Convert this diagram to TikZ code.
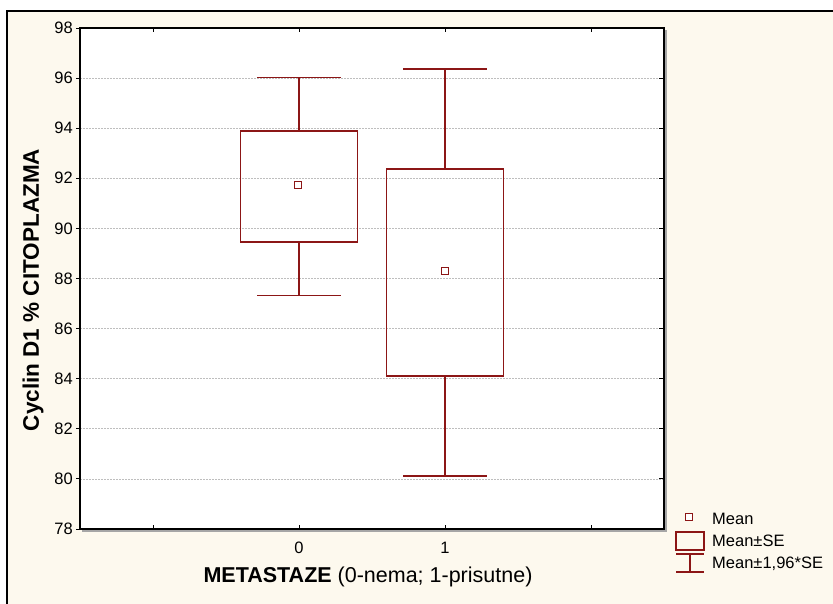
\documentclass[tikz,border=0pt]{standalone}
\usepackage{fontspec}
\setmainfont{Liberation Sans}
\definecolor{cream}{RGB}{253,249,238}
\definecolor{dred}{RGB}{140,22,22}
\definecolor{gridgray}{RGB}{190,190,190}
\tikzset{
  datline/.style={draw=dred, line width=1.7pt},
  meanmark/.style={draw=dred, line width=0.9pt, fill=white, minimum size=7pt, inner sep=0pt, rectangle},
  ticklab/.style={font=\fontsize{16.5}{18}\selectfont, inner sep=0pt},
  legtext/.style={font=\fontsize{16.5}{18}\selectfont, inner sep=0pt, anchor=west},
  axtitle/.style={font=\fontsize{21.5}{24}\selectfont, inner sep=0pt},
  gridline/.style={draw=gridgray, line width=0.7pt, dash pattern=on 2pt off 1pt},
}
\begin{document}
\begin{tikzpicture}[x=1pt,y=-1pt]
\useasboundingbox (0,0) rectangle (833,603);
\fill[white] (0,0) rectangle (833,603);
% outer frame
\fill[cream] (7,11) rectangle (840,610);
\draw[black, line width=2pt] (7,610) -- (7,11) -- (840,11);
% plot area
\fill[white] (80,28) rectangle (664,529);
\foreach \v in {80,82,...,96}{
  \pgfmathsetmacro{\yy}{529-(\v-78)*25.05}
  \draw[gridline] (80,\yy) -- (664,\yy);
}
\foreach \v in {78,80,...,98}{
  \pgfmathsetmacro{\yy}{529-(\v-78)*25.05}
  \draw[black, line width=1pt] (76,\yy) -- (80,\yy);
  \draw[black, line width=1pt] (664,\yy) -- (659,\yy);
  \node[ticklab, anchor=east] (yl\v) at (73,\yy) {\v};
}
\foreach \xx in {153,299,445,591}{
  \draw[black, line width=1pt] (\xx,529) -- (\xx,525);
  \draw[black, line width=1pt] (\xx,28) -- (\xx,32);
}
\draw[gray!70, line width=1.2pt] (666,30) -- (666,531) -- (82,531);
\draw[black, line width=1.3pt] (80,28) rectangle (664,529);
\node[ticklab] (x0) at (299,548) {0};
\node[ticklab] (x1) at (445,548) {1};
% group 0
\draw[datline] (299,77.6) -- (299,131);
\draw[datline] (299,242) -- (299,295.5);
\draw[datline] (257,77.6) -- (341,77.6);
\draw[datline] (257,295.5) -- (341,295.5);
\draw[datline] (240.6,131) rectangle (357.4,242);
\node[meanmark] (m0) at (298,185) {};
% group 1
\draw[datline] (445,69) -- (445,169);
\draw[datline] (445,376) -- (445,476);
\draw[datline] (403,69) -- (487,69);
\draw[datline] (403,476) -- (487,476);
\draw[datline] (386.6,169) rectangle (503.4,376);
\node[meanmark] (m1) at (445,271) {};
% axis titles
\node[axtitle, font=\fontsize{22.5}{24}\selectfont, rotate=90] (ytitle) at (33,290) {\textbf{Cyclin D1 \% CITOPLAZMA}};
\node[axtitle] (xtitle) at (368,577) {\textbf{METASTAZE} (0-nema; 1-prisutne)};
% legend
\node[meanmark] (lm) at (689,517) {};
\draw[datline] (676,532) rectangle (704,550);
\draw[datline] (676,554) -- (704,554);
\draw[datline] (676,572) -- (704,572);
\draw[datline] (690,554) -- (690,572);
\node[legtext] (lt1) at (712,519) {Mean};
\node[legtext] (lt2) at (712,541) {Mean±SE};
\node[legtext] (lt3) at (712,564) {Mean±1,96*SE};
\end{tikzpicture}
\end{document}
